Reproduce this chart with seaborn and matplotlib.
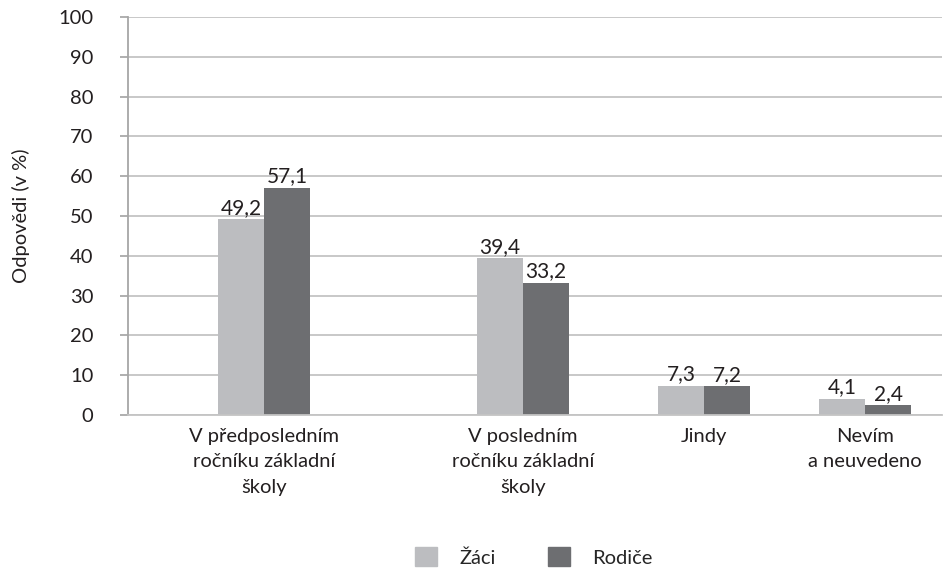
import numpy as np
import pandas as pd
import matplotlib
matplotlib.use("Agg")
import matplotlib.pyplot as plt
import seaborn as sns

# data
categories = ["V předposledním\nročníku základní\nškoly",
              "V posledním\nročníku základní\nškoly",
              "Jindy",
              "Nevím\na neuvedeno"]
groups = ["Žáci", "Rodiče"]
zaci = [49.2, 39.4, 7.3, 4.1]
rodice = [57.1, 33.2, 7.2, 2.4]

# layout: uneven category slots as in the original
slot_x = [1.67, 4.85, 7.08, 9.055]
colors = ["#bcbdc0", "#6d6e71"]
fs = 14.5

sns.set_theme(style="white")
plt.rcParams["font.family"] = ["Lato", "DejaVu Sans"]

df = pd.DataFrame({
    "x": slot_x * 2,
    "value": zaci + rodice,
    "group": [groups[0]] * 4 + [groups[1]] * 4,
})

fig = plt.figure(figsize=(9.43, 5.7), dpi=100)
ax = fig.add_axes([0.1357, 0.2719, 0.8633, 0.6983])

sns.barplot(data=df, x="x", y="value", hue="group", hue_order=groups,
            palette=colors, native_scale=True, width=0.5716, gap=0,
            saturation=1, legend=False, ax=ax, linewidth=0)

ax.set_xlim(0, 10)
ax.set_ylim(0, 100)
ax.set_yticks(np.arange(0, 101, 10))
ax.tick_params(axis="y", labelsize=fs, length=6, color="#a6a6a6",
               left=True, pad=19, labelcolor="#231f20")
ax.yaxis.grid(True, color="#c4c4c4", linewidth=1.3)
ax.set_axisbelow(True)
for s in ["top", "right"]:
    ax.spines[s].set_visible(False)
ax.spines["left"].set_color("#a6a6a6")
ax.spines["bottom"].set_color("#c4c4c4")
ax.spines["left"].set_linewidth(1.3)
ax.spines["bottom"].set_linewidth(1.3)

ax.set_xticks(slot_x)
ax.set_xticklabels(categories, fontsize=fs, color="#231f20",
                   linespacing=1.62, va="top")
ax.tick_params(axis="x", length=0, pad=9)
ax.set_xlabel("")
ax.set_ylabel("Odpovědi (v %)", fontsize=fs, color="#231f20", labelpad=20)

for cont in ax.containers:
    ax.bar_label(cont, labels=[f"{v:.1f}".replace(".", ",") for v in cont.datavalues],
                 fontsize=fs + 0.5, color="#231f20", padding=1)

handles = [plt.Rectangle((0, 0), 1, 1, color=c) for c in colors]
fig.legend(handles, groups, loc="center", bbox_to_anchor=(0.566, 0.023),
           ncol=2, frameon=False, fontsize=fs, handlelength=1.1,
           handleheight=1.1, columnspacing=2.6, handletextpad=1.1)

fig.savefig("out.png", dpi=100)
